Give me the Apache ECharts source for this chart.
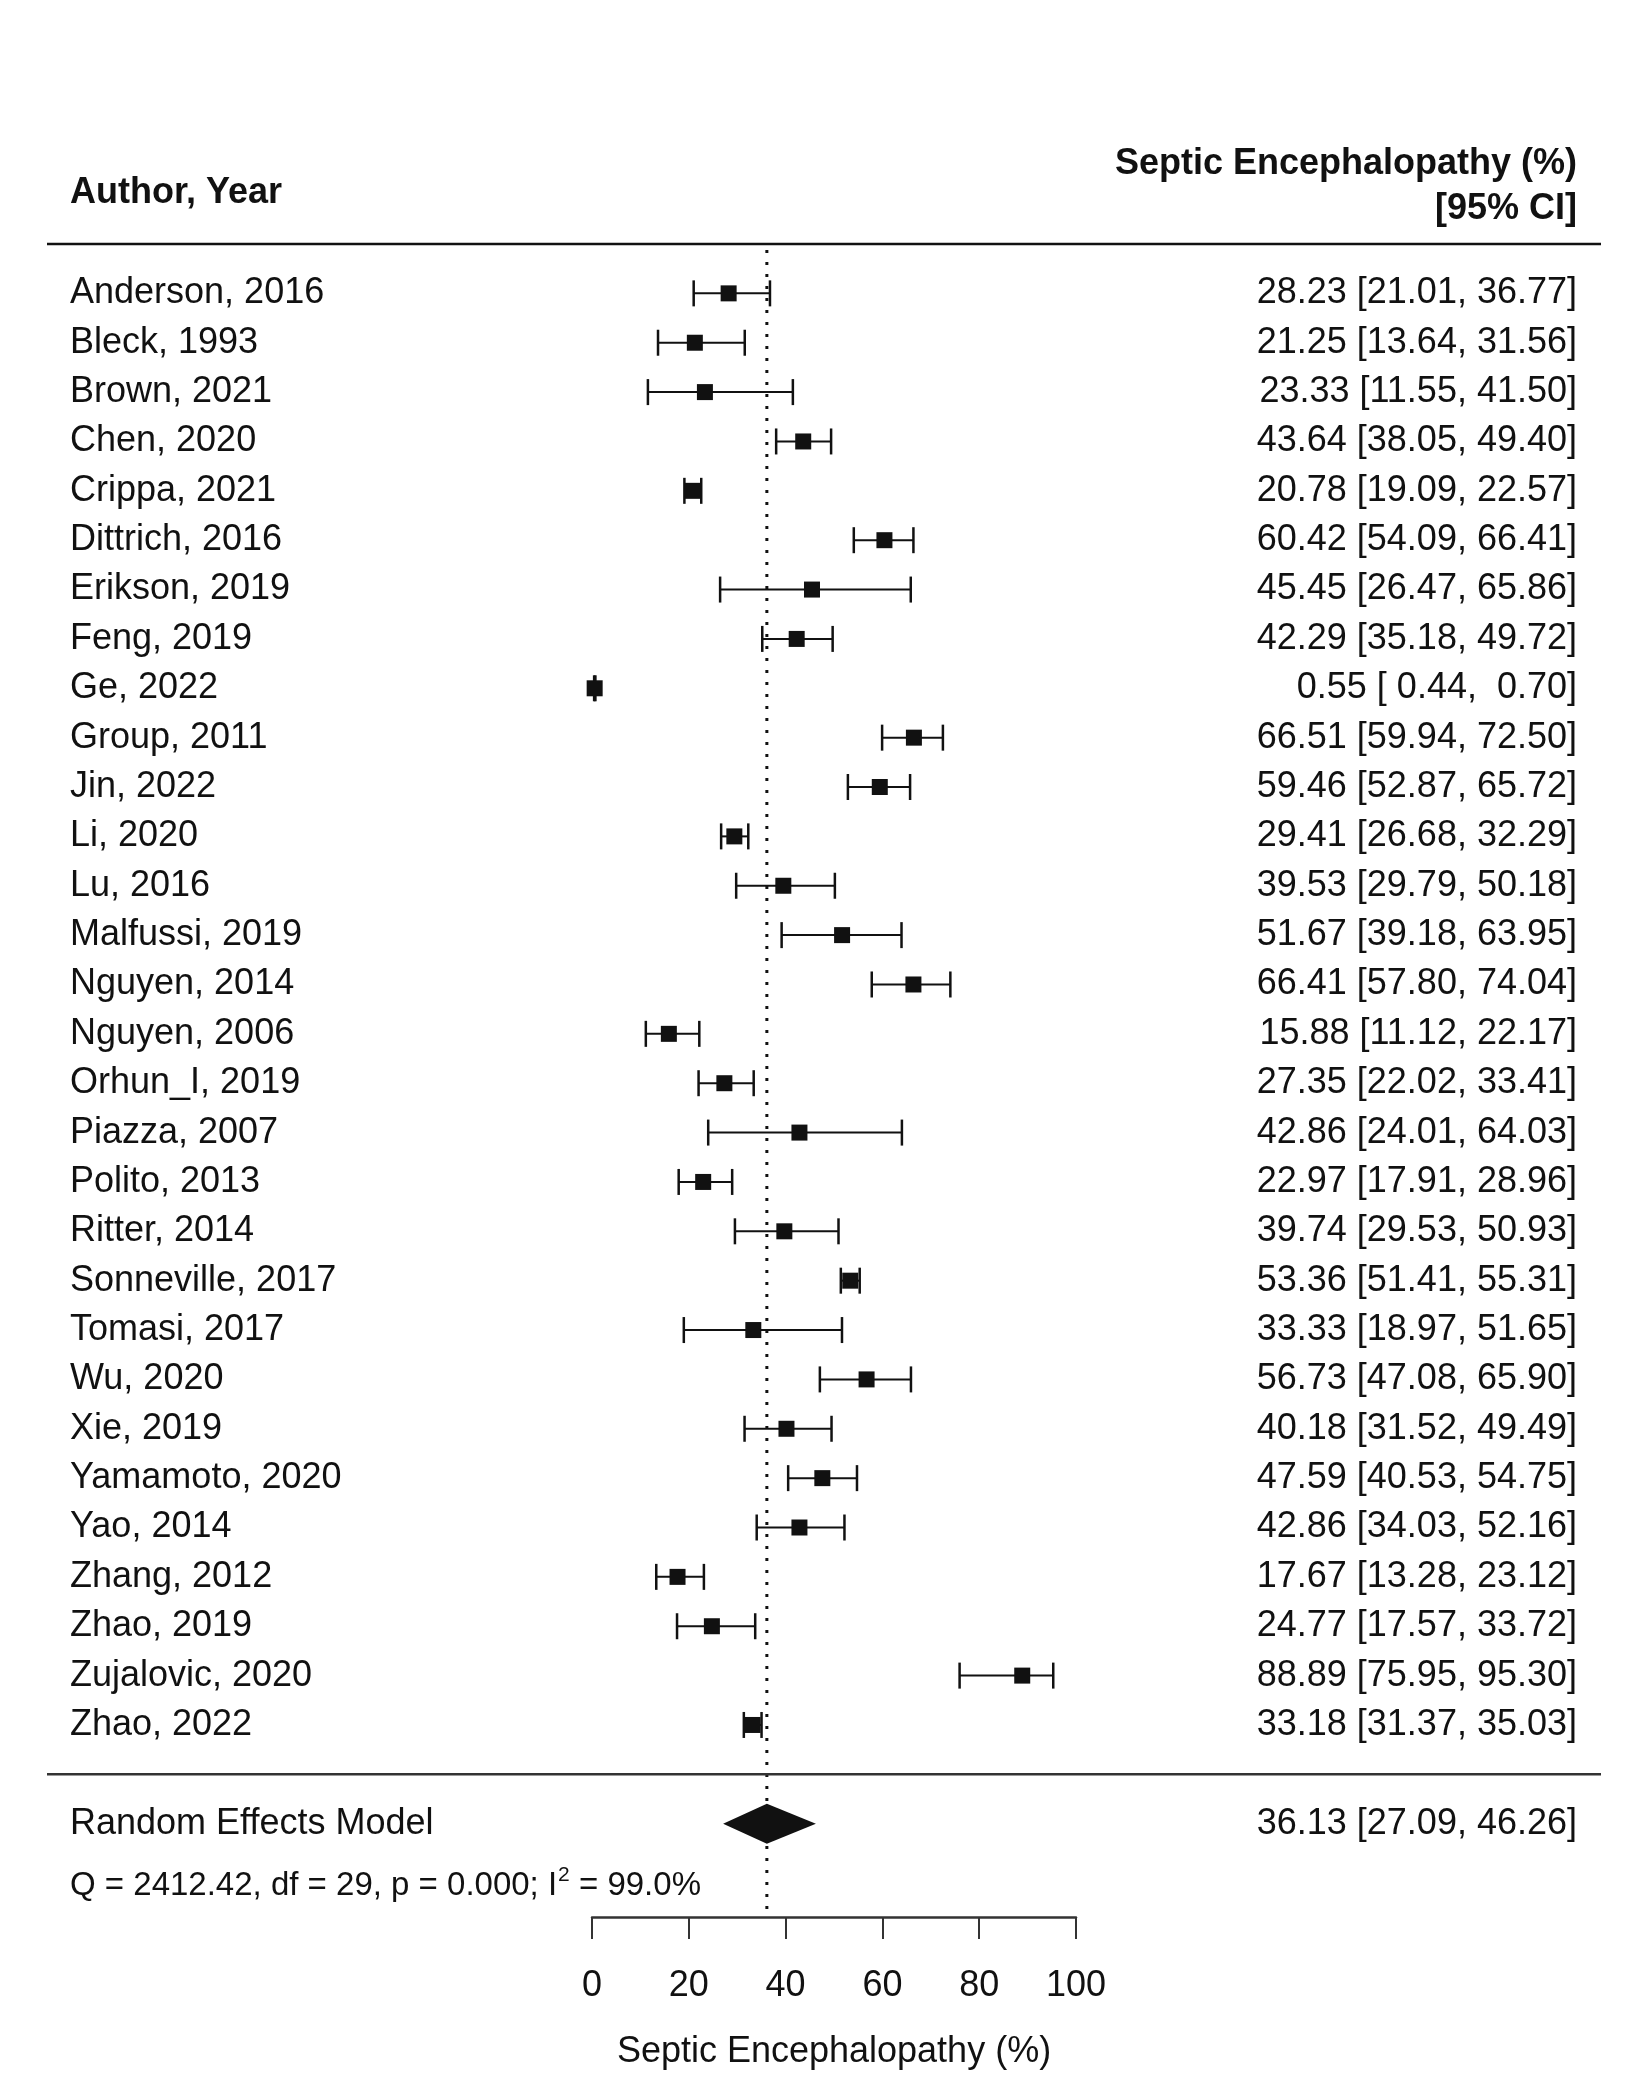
<!DOCTYPE html>
<html>
<head>
<meta charset="utf-8">
<script src="https://cdn.jsdelivr.net/npm/echarts@6/dist/echarts.min.js"></script>
<style>
  html, body { margin: 0; padding: 0; background: #fff; }
  #chart { width: 1649px; height: 2100px; }
</style>
</head>
<body>
<div id="chart"></div>
<script>
// study rows, top to bottom
const authors = [
  'Anderson, 2016', 'Bleck, 1993', 'Brown, 2021', 'Chen, 2020', 'Crippa, 2021',
  'Dittrich, 2016', 'Erikson, 2019', 'Feng, 2019', 'Ge, 2022', 'Group, 2011',
  'Jin, 2022', 'Li, 2020', 'Lu, 2016', 'Malfussi, 2019', 'Nguyen, 2014',
  'Nguyen, 2006', 'Orhun_I, 2019', 'Piazza, 2007', 'Polito, 2013', 'Ritter, 2014',
  'Sonneville, 2017', 'Tomasi, 2017', 'Wu, 2020', 'Xie, 2019', 'Yamamoto, 2020',
  'Yao, 2014', 'Zhang, 2012', 'Zhao, 2019', 'Zujalovic, 2020', 'Zhao, 2022'
];
const estimates = [
  28.23, 21.25, 23.33, 43.64, 20.78, 60.42, 45.45, 42.29, 0.55, 66.51,
  59.46, 29.41, 39.53, 51.67, 66.41, 15.88, 27.35, 42.86, 22.97, 39.74,
  53.36, 33.33, 56.73, 40.18, 47.59, 42.86, 17.67, 24.77, 88.89, 33.18
];
const ciLower = [
  21.01, 13.64, 11.55, 38.05, 19.09, 54.09, 26.47, 35.18, 0.44, 59.94,
  52.87, 26.68, 29.79, 39.18, 57.80, 11.12, 22.02, 24.01, 17.91, 29.53,
  51.41, 18.97, 47.08, 31.52, 40.53, 34.03, 13.28, 17.57, 75.95, 31.37
];
const ciUpper = [
  36.77, 31.56, 41.50, 49.40, 22.57, 66.41, 65.86, 49.72, 0.70, 72.50,
  65.72, 32.29, 50.18, 63.95, 74.04, 22.17, 33.41, 64.03, 28.96, 50.93,
  55.31, 51.65, 65.90, 49.49, 54.75, 52.16, 23.12, 33.72, 95.30, 35.03
];

// pooled estimate
const pooledLabel = 'Random Effects Model';
const pooledEstimate = 36.13;
const pooledLower = 27.09;
const pooledUpper = 46.26;
// heterogeneity line: text before the superscript, superscript, text after
const hetParts = ['Q = 2412.42, df = 29, p = 0.000; I', '2', ' = 99.0%'];

const xTicks = [0, 20, 40, 60, 80, 100];
const axisTitle = 'Septic Encephalopathy (%)';

const FONT = '"Liberation Sans", Arial, Helvetica, sans-serif';
const INK = '#111';
const POOLED_ROW = authors.length + 1;   // one empty row below the studies
const Y_MAX = 32.89;                     // bottom of the plot = x axis line
const LABEL_X = 70;
const VALUE_X = 1577;
const RULE_X0 = 47, RULE_X1 = 1601;

function fmtCI(est, lo, hi) {
  const f = (v) => v.toFixed(2).padStart(5, ' ');
  return `${est.toFixed(2)} [${f(lo)}, ${f(hi)}]`;
}

function textEl(text, x, y, align, font) {
  return {
    type: 'text', x, y,
    style: {
      text, font, fill: INK,
      align, textAlign: align,
      verticalAlign: 'middle', textVerticalAlign: 'middle'
    }
  };
}

function renderStudy(params, api) {
  const row = api.value(0);
  const [xEst, y] = api.coord([api.value(1), row]);
  const xLo = api.coord([api.value(2), row])[0];
  const xHi = api.coord([api.value(3), row])[0];
  const cap = 13, half = 8;
  return {
    type: 'group',
    children: [
      { type: 'line', shape: { x1: xLo, y1: y, x2: xHi, y2: y }, style: { stroke: INK, lineWidth: 2 } },
      { type: 'line', shape: { x1: xLo, y1: y - cap, x2: xLo, y2: y + cap }, style: { stroke: INK, lineWidth: 2.5 } },
      { type: 'line', shape: { x1: xHi, y1: y - cap, x2: xHi, y2: y + cap }, style: { stroke: INK, lineWidth: 2.5 } },
      { type: 'rect', shape: { x: xEst - half, y: y - half, width: 2 * half, height: 2 * half }, style: { fill: INK } },
      textEl(authors[row], LABEL_X, y, 'left', `36px ${FONT}`),
      textEl(fmtCI(api.value(1), api.value(2), api.value(3)), VALUE_X, y, 'right', `36px ${FONT}`)
    ]
  };
}

function renderPooled(params, api) {
  const row = api.value(0);
  const [xEst, y] = api.coord([api.value(1), row]);
  const xLo = api.coord([api.value(2), row])[0];
  const xHi = api.coord([api.value(3), row])[0];
  const yTop = api.coord([0, -1])[1];
  const ySep = api.coord([0, authors.length])[1];
  const yAxisLine = api.coord([0, Y_MAX])[1];
  const h = 20;
  return {
    type: 'group',
    children: [
      { type: 'line', shape: { x1: RULE_X0, y1: yTop, x2: RULE_X1, y2: yTop }, style: { stroke: INK, lineWidth: 2.5 } },
      { type: 'line', shape: { x1: RULE_X0, y1: ySep, x2: RULE_X1, y2: ySep }, style: { stroke: '#333', lineWidth: 2.5 } },
      { type: 'line', z2: -1, shape: { x1: xEst, y1: yTop + 6, x2: xEst, y2: yAxisLine },
        style: { stroke: INK, lineWidth: 3, lineDash: [3, 9] } },
      { type: 'polygon', shape: { points: [[xLo, y], [xEst, y - h], [xHi, y], [xEst, y + h]] }, style: { fill: INK } },
      textEl(pooledLabel, LABEL_X, y, 'left', `36px ${FONT}`),
      textEl(fmtCI(api.value(1), api.value(2), api.value(3)), VALUE_X, y, 'right', `36px ${FONT}`)
    ]
  };
}

// widths for the heterogeneity line pieces
const measure = document.createElement('canvas').getContext('2d');
const HET_FONT = `33px ${FONT}`, SUP_FONT = `21px ${FONT}`;
measure.font = HET_FONT;
const hetW0 = measure.measureText(hetParts[0]).width;
measure.font = SUP_FONT;
const hetW1 = measure.measureText(hetParts[1]).width;
const HET_Y = 1886;

const studyData = authors.map((_, i) => [i, estimates[i], ciLower[i], ciUpper[i]]);

const chart = echarts.init(document.getElementById('chart'), null, { renderer: 'canvas' });
chart.setOption({
  animation: false,
  backgroundColor: '#fff',
  textStyle: { fontFamily: FONT },
  grid: { left: 592, top: 244, width: 484, height: 1673 },
  xAxis: {
    type: 'value', min: 0, max: 100, interval: 20,
    axisLine: { show: true, onZero: false, lineStyle: { color: '#333', width: 2.5 } },
    axisTick: { show: true, inside: false, length: 22, customValues: xTicks, lineStyle: { color: '#333', width: 2 } },
    axisLabel: { margin: 51, fontSize: 36, color: INK, fontFamily: FONT, customValues: xTicks },
    splitLine: { show: false },
    name: axisTitle, nameLocation: 'middle', nameGap: 117,
    nameTextStyle: { fontSize: 36, color: INK, fontFamily: FONT }
  },
  yAxis: { type: 'value', inverse: true, min: -1, max: Y_MAX, show: false },
  series: [
    {
      type: 'custom', name: 'studies', clip: false, silent: true,
      renderItem: renderStudy, data: studyData
    },
    {
      type: 'custom', name: 'pooled', clip: false, silent: true,
      renderItem: renderPooled,
      data: [[POOLED_ROW, pooledEstimate, pooledLower, pooledUpper]]
    }
  ],
  graphic: [
    { type: 'text', x: LABEL_X, y: 193,
      style: { text: 'Author, Year', font: `bold 36px ${FONT}`, fill: INK, verticalAlign: 'middle', textVerticalAlign: 'middle' } },
    { type: 'text', x: VALUE_X, y: 164,
      style: { text: 'Septic Encephalopathy (%)', font: `bold 36px ${FONT}`, fill: INK,
        align: 'right', textAlign: 'right', verticalAlign: 'middle', textVerticalAlign: 'middle' } },
    { type: 'text', x: VALUE_X, y: 209,
      style: { text: '[95% CI]', font: `bold 36px ${FONT}`, fill: INK,
        align: 'right', textAlign: 'right', verticalAlign: 'middle', textVerticalAlign: 'middle' } },
    { type: 'text', x: LABEL_X, y: HET_Y,
      style: { text: hetParts[0], font: HET_FONT, fill: INK, verticalAlign: 'middle', textVerticalAlign: 'middle' } },
    { type: 'text', x: LABEL_X + hetW0 + 1, y: HET_Y - 11,
      style: { text: hetParts[1], font: SUP_FONT, fill: INK, verticalAlign: 'middle', textVerticalAlign: 'middle' } },
    { type: 'text', x: LABEL_X + hetW0 + hetW1 + 1, y: HET_Y,
      style: { text: hetParts[2], font: HET_FONT, fill: INK, verticalAlign: 'middle', textVerticalAlign: 'middle' } }
  ]
});
</script>
</body>
</html>
